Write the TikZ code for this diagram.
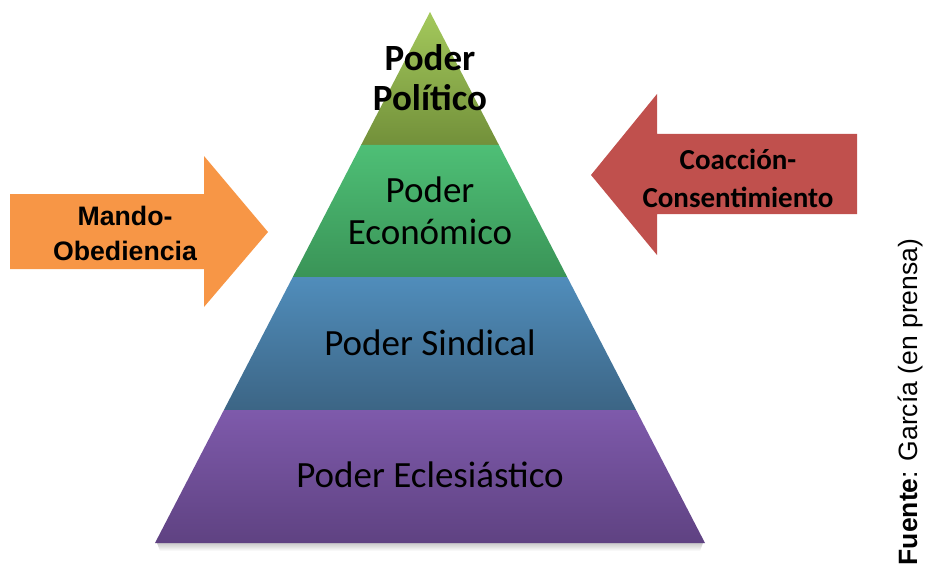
\documentclass[tikz,border=0pt]{standalone}
\usepackage{fontspec}
\newfontfamily\calfont{Carlito}
\newfontfamily\arifont{Liberation Sans}
\definecolor{topA}{HTML}{A4C95C}
\definecolor{topB}{HTML}{72903A}
\definecolor{ecoA}{HTML}{4EBF76}
\definecolor{ecoB}{HTML}{3A9457}
\definecolor{sinA}{HTML}{508DBB}
\definecolor{sinB}{HTML}{3C6585}
\definecolor{eclA}{HTML}{7E5AAB}
\definecolor{eclB}{HTML}{5F4282}
\definecolor{orangeArrow}{HTML}{F79646}
\definecolor{redArrow}{HTML}{C0504D}
\tikzset{
  layertext/.style={font=\calfont\fontsize{37}{42}\selectfont, text=black, align=center, inner sep=0pt},
  arrowtext/.style={font=\calfont\bfseries\fontsize{29}{38}\selectfont, text=black, align=center, inner sep=0pt},
}
\begin{document}
\begin{tikzpicture}[x=1pt,y=-1pt]
\useasboundingbox (0,0) rectangle (926,567);
% shadow under pyramid
\shade[top color=black!35, bottom color=white, opacity=0.6] (157,543) -- (703,543) -- (700,551) -- (160,551) -- cycle;
% layers
\shade[top color=topA, bottom color=topB] (430,12) -- (498.9,145) -- (361.1,145) -- cycle;
\shade[top color=ecoA, bottom color=ecoB] (361.1,145) -- (498.9,145) -- (567.2,277) -- (292.8,277) -- cycle;
\shade[top color=sinA, bottom color=sinB] (292.8,277) -- (567.2,277) -- (636.1,410) -- (223.9,410) -- cycle;
\shade[top color=eclA, bottom color=eclB] (223.9,410) -- (636.1,410) -- (705,543) -- (155,543) -- cycle;
% texts
\node[layertext, font=\calfont\bfseries\fontsize{37}{40}\selectfont] (pol) at (430,78) {Poder\\Político};
\node[layertext] (eco) at (430,211) {Poder\\Económico};
\node[layertext] (sin) at (430,343) {Poder Sindical};
\node[layertext] (ecl) at (430,475) {Poder Eclesiástico};
% orange arrow
\fill[orangeArrow] (10,194) -- (204,194) -- (204,156) -- (268,232) -- (204,307) -- (204,269) -- (10,269) -- cycle;
\node[arrowtext, font=\arifont\bfseries\fontsize{26.7}{35}\selectfont] (mando) at (125,233) {Mando-\\Obediencia};
% red arrow
\fill[redArrow] (857,134) -- (657,134) -- (657,94) -- (591,175) -- (657,255) -- (657,214) -- (857,214) -- cycle;
\node[arrowtext] (coac) at (738,178) {Coacción-\\Consentimiento};
% source
\node[rotate=90, inner sep=0pt, font=\arifont\fontsize{26.5}{30}\selectfont] (fuente) at (910,402) {\textbf{Fuente}: García (en prensa)};
\end{tikzpicture}
\end{document}
